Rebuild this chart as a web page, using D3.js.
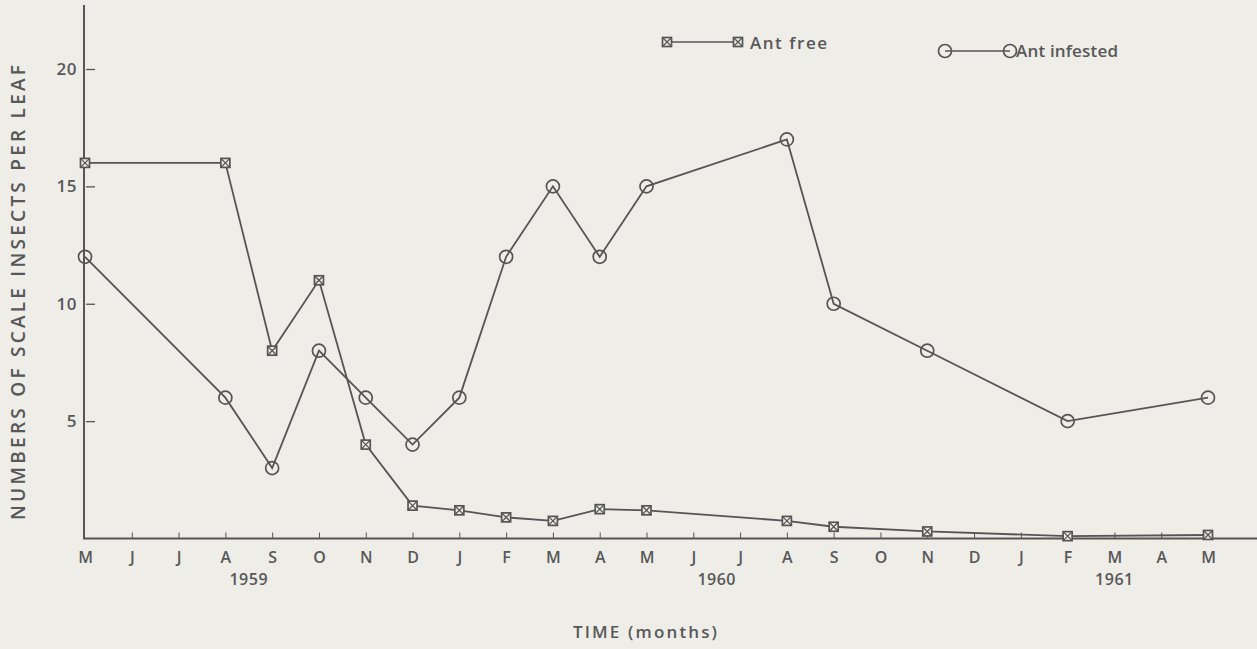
<!DOCTYPE html>
<html><head><meta charset="utf-8">
<script src="https://cdn.jsdelivr.net/npm/d3@7"></script>
<style>
html,body{margin:0;padding:0;background:#eeede8;}
svg{display:block;}
text{font-family:"Open Sans",sans-serif;fill:#585858;font-weight:600;}
</style></head>
<body>
<svg id="c" width="1257" height="649"></svg>
<script>
const monthLabels = ["M","J","J","A","S","O","N","D","J","F","M","A","M","J","J","A","S","O","N","D","J","F","M","A","M"];
const yearLabels = [{label:"1959", at:3.5},{label:"1960", at:13.5},{label:"1961", at:22}];
const yTicks = [5,10,15,20];
const antFreeMonths = [0,3,4,5,6,7,8,9,10,11,12,15,16,18,21,24];
const antFreeValues = [16,16,8,11,4,1.4,1.2,0.9,0.75,1.25,1.2,0.75,0.5,0.3,0.1,0.15];
const antInfMonths = [0,3,4,5,6,7,8,9,10,11,12,15,16,18,21,24];
const antInfValues = [12,6,3,8,6,4,6,12,15,12,15,17,10,8,5,6];

const ink = "#555";
const bg = "#eeede8";
const svg = d3.select("#c");
const x = d3.scaleLinear().domain([0,24]).range([85,1208]);
const y = d3.scaleLinear().domain([0,20]).range([538.5,69]);

// y axis
const ya = svg.append("g").attr("transform","translate(84,0)")
  .call(d3.axisLeft(y).tickValues(yTicks).tickSizeInner(-9).tickSizeOuter(0).tickPadding(7));
ya.select(".domain").remove();
ya.selectAll(".tick line").attr("stroke",ink).attr("stroke-width",1.3).attr("transform","translate(2,0)");
ya.selectAll(".tick text").attr("font-size",17).attr("letter-spacing",0.5).style("font-family","Open Sans").attr("fill","#585858");
svg.append("line").attr("x1",84).attr("x2",84).attr("y1",5).attr("y2",539).attr("stroke",ink).attr("stroke-width",2);

// x axis
const xa = svg.append("g").attr("transform","translate(0,538.5)")
  .call(d3.axisBottom(x).tickValues(d3.range(0,25)).tickFormat(i=>monthLabels[i]).tickSizeInner(-6).tickSizeOuter(0).tickPadding(13));
xa.select(".domain").remove();
xa.selectAll(".tick line").attr("stroke",ink).attr("stroke-width",1).filter(d=>d===0).remove();
xa.selectAll(".tick text").attr("font-size",16).style("font-family","Open Sans").attr("fill","#585858");
svg.append("line").attr("x1",83).attr("x2",1257).attr("y1",538.5).attr("y2",538.5).attr("stroke",ink).attr("stroke-width",2);

svg.append("g").selectAll("text").data(yearLabels).join("text")
  .attr("x",d=>x(d.at)).attr("y",585).attr("text-anchor","middle").attr("font-size",16).attr("letter-spacing",0.5).text(d=>d.label);

svg.append("text").attr("x",573).attr("y",638).attr("font-size",17)
  .attr("textLength",144).attr("lengthAdjust","spacing").text("TIME (months)");

svg.append("text").attr("transform","translate(25,520) rotate(-90)")
  .attr("font-size",19).attr("textLength",455).attr("lengthAdjust","spacing").text("NUMBERS OF SCALE INSECTS PER LEAF");

// lines
const line = d3.line().x(d=>x(d[0])).y(d=>y(d[1]));
const free = antFreeMonths.map((m,i)=>[m,antFreeValues[i]]);
const inf = antInfMonths.map((m,i)=>[m,antInfValues[i]]);
svg.append("path").datum(free).attr("d",line).attr("fill","none").attr("stroke",ink).attr("stroke-width",1.8);
svg.append("path").datum(inf).attr("d",line).attr("fill","none").attr("stroke",ink).attr("stroke-width",1.8);

function sqMarker(g, cx, cy){
  const s=4.5;
  g.append("rect").attr("x",cx-s).attr("y",cy-s).attr("width",2*s).attr("height",2*s)
    .attr("fill",bg).attr("stroke",ink).attr("stroke-width",1.7);
  g.append("path").attr("d",`M${cx-s},${cy-s}L${cx+s},${cy+s}M${cx+s},${cy-s}L${cx-s},${cy+s}`)
    .attr("stroke",ink).attr("stroke-width",1.3);
}
function circMarker(g, cx, cy){
  g.append("circle").attr("cx",cx).attr("cy",cy).attr("r",6.5).attr("fill","none").attr("stroke",ink).attr("stroke-width",1.7);
}
const mk = svg.append("g");
free.forEach(d=>sqMarker(mk,x(d[0]),y(d[1])));
inf.forEach(d=>circMarker(mk,x(d[0]),y(d[1])));

// legend
const lg = svg.append("g");
lg.append("line").attr("x1",667).attr("x2",738).attr("y1",42).attr("y2",42).attr("stroke",ink).attr("stroke-width",1.6);
sqMarker(lg,667,42); sqMarker(lg,738,42);
lg.append("text").attr("x",750).attr("y",49).attr("font-size",17).attr("textLength",77).attr("lengthAdjust","spacing").text("Ant free");
lg.append("line").attr("x1",945).attr("x2",1010).attr("y1",51).attr("y2",51).attr("stroke",ink).attr("stroke-width",1.6);
circMarker(lg,945,51); circMarker(lg,1010,51);
lg.append("text").attr("x",1016).attr("y",57).attr("font-size",17).attr("textLength",102).attr("lengthAdjust","spacing").text("Ant infested");
</script>
</body></html>
